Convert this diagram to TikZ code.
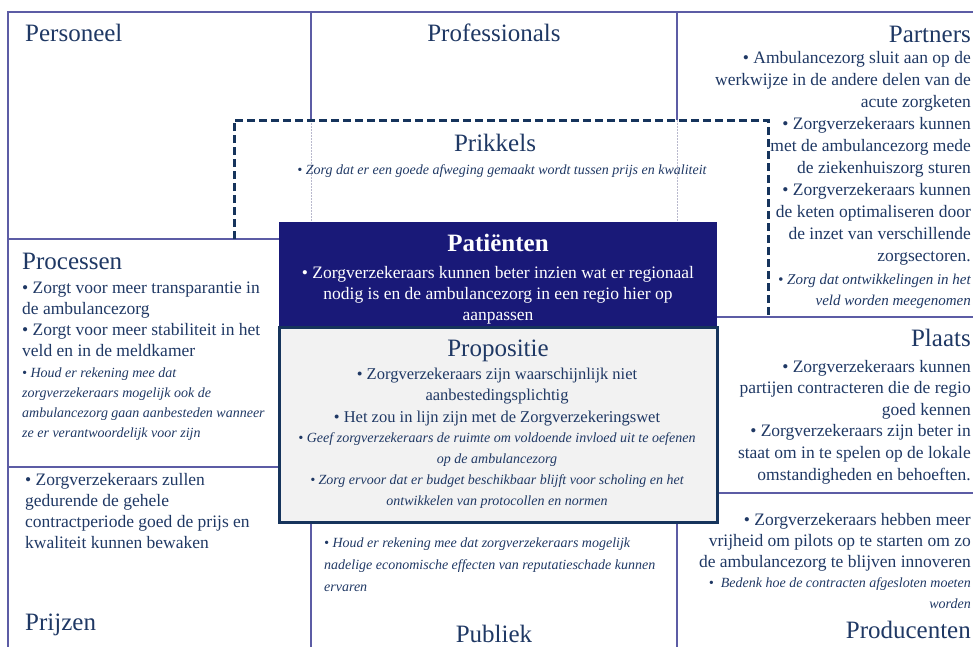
\documentclass[tikz,border=0pt]{standalone}
\usepackage{fontspec}
\setmainfont{Liberation Serif}
\usetikzlibrary{positioning}
\definecolor{navytxt}{RGB}{31,56,100}
\definecolor{gridc}{RGB}{92,92,165}
\definecolor{patfill}{RGB}{25,25,120}
\definecolor{propline}{RGB}{22,52,92}
\definecolor{propfill}{RGB}{242,242,242}
\definecolor{faint}{RGB}{185,185,205}

\begin{document}
\begin{tikzpicture}[x=1pt, y=-1pt,
  ttl/.style={text=navytxt, inner sep=0pt, font=\fontsize{25}{30}\selectfont},
  body/.style={text=navytxt, inner sep=0pt, font=\fontsize{17.5}{21}\selectfont},
  note/.style={text=navytxt, inner sep=0pt, font=\fontsize{14}{21}\selectfont\itshape},
  gline/.style={draw=gridc, line width=1.4pt}]
  \useasboundingbox (0,0) rectangle (973,646);
  \clip (0,0) rectangle (973,646);
  % canvas grid
  \draw[gline] (8,660) -- (8,12) -- (990,12);
  \draw[gline] (8,239) -- (279,239);
  \draw[gline] (8,467) -- (279,467);
  \draw[gline] (311,12) -- (311,120);
  \draw[gline] (677,12) -- (677,120);
  \draw[faint, line width=0.8pt, dash pattern=on 1.5pt off 1.5pt] (311,120) -- (311,222);
  \draw[faint, line width=0.8pt, dash pattern=on 1.5pt off 1.5pt] (677,120) -- (677,222);
  \draw[gline] (311,522) -- (311,660);
  \draw[gline] (677,522) -- (677,660);
  \draw[gline] (717,317) -- (990,317);
  \draw[gline] (717,493) -- (990,493);
  % prikkels
  \draw[propline, line width=3pt, dash pattern=on 8pt off 4pt]
    (234,239) -- (234,120) -- (768,120) -- (768,317);
  % centre boxes
  \fill[patfill] (279,222) rectangle (717,327);
  \draw[propline, line width=3pt, fill=propfill] (279,327) rectangle (717,522);

  % titles sit on their baseline, text blocks on the baseline of their last line
  \node[ttl, anchor=base west] (pers) at (25,41) {Personeel};
  \node[ttl, anchor=base] (prof) at (494,41) {Professionals};
  \node[ttl, anchor=base east] (part) at (971,42) {Partners};
  \node[body, anchor=base east, align=right, font=\fontsize{17.5}{22}\selectfont] (partb) at (971,261)
    {• Ambulancezorg sluit aan op de\\werkwijze in de andere delen van de\\acute zorgketen\\
     • Zorgverzekeraars kunnen\\met de ambulancezorg mede\\de ziekenhuiszorg sturen\\
     • Zorgverzekeraars kunnen\\de keten optimaliseren door\\de inzet van verschillende\\zorgsectoren.};
  \node[note, anchor=base east, align=right, font=\fontsize{15}{21}\selectfont\itshape] (partn) at (971,305)
    {• Zorg dat ontwikkelingen in het\\veld worden meegenomen};

  \node[ttl, anchor=base] (prik) at (495,151) {Prikkels};
  \node[note, anchor=base] (prikn) at (502,174)
    {• Zorg dat er een goede afweging gemaakt wordt tussen prijs en kwaliteit};

  \node[ttl, anchor=base, text=white, font=\fontsize{25}{30}\selectfont\bfseries] (pat) at (498,251) {Patiënten};
  \node[body, anchor=base, align=center, text=white] (patb) at (498,320)
    {• Zorgverzekeraars kunnen beter inzien wat er regionaal\\nodig is en de ambulancezorg in een regio hier op\\aanpassen};

  \node[ttl, anchor=base] (prop) at (498,356) {Propositie};
  \node[body, anchor=base, align=center, font=\fontsize{16.5}{21.5}\selectfont] (propb) at (497,422)
    {• Zorgverzekeraars zijn waarschijnlijk niet\\aanbestedingsplichtig\\• Het zou in lijn zijn met de Zorgverzekeringswet};
  \node[note, anchor=base, align=center] (propn) at (497,505)
    {• Geef zorgverzekeraars de ruimte om voldoende invloed uit te oefenen\\op de ambulancezorg\\
     • Zorg ervoor dat er budget beschikbaar blijft voor scholing en het\\ontwikkelen van protocollen en normen};

  \node[ttl, anchor=base west] (proc) at (22,269) {Processen};
  \node[body, anchor=base west, align=left] (procb) at (22,356)
    {• Zorgt voor meer transparantie in\\de ambulancezorg\\• Zorgt voor meer stabiliteit in het\\veld en in de meldkamer};
  \node[note, anchor=base west, align=left, font=\fontsize{14}{20}\selectfont\itshape] (procn) at (22,437)
    {• Houd er rekening mee dat\\zorgverzekeraars mogelijk ook de\\ambulancezorg gaan aanbesteden wanneer\\ze er verantwoordelijk voor zijn};

  \node[body, anchor=base west, align=left] (prijb) at (25,548)
    {• Zorgverzekeraars zullen\\gedurende de gehele\\contractperiode goed de prijs en\\kwaliteit kunnen bewaken};
  \node[ttl, anchor=base west] (prij) at (25,630) {Prijzen};

  \node[note, anchor=base west, align=left, font=\fontsize{14}{22}\selectfont\itshape] (publn) at (324,591)
    {• Houd er rekening mee dat zorgverzekeraars mogelijk\\nadelige economische effecten van reputatieschade kunnen\\ervaren};
  \node[ttl, anchor=base] (publ) at (494,642) {Publiek};

  \node[ttl, anchor=base east] (plts) at (971,346) {Plaats};
  \node[body, anchor=base east, align=right, font=\fontsize{17.5}{21.6}\selectfont] (pltsb) at (971,480)
    {• Zorgverzekeraars kunnen\\partijen contracteren die de regio\\goed kennen\\
     • Zorgverzekeraars zijn beter in\\staat om in te spelen op de lokale\\omstandigheden en behoeften.};

  \node[body, anchor=base east, align=right] (prodb) at (971,567)
    {• Zorgverzekeraars hebben meer\\vrijheid om pilots op te starten om zo\\de ambulancezorg te blijven innoveren};
  \node[note, anchor=base east, align=right] (prodn) at (971,608)
    {•\ \ Bedenk hoe de contracten afgesloten moeten\\worden};
  \node[ttl, anchor=base east] (prod) at (971,638) {Producenten};
\end{tikzpicture}
\end{document}
